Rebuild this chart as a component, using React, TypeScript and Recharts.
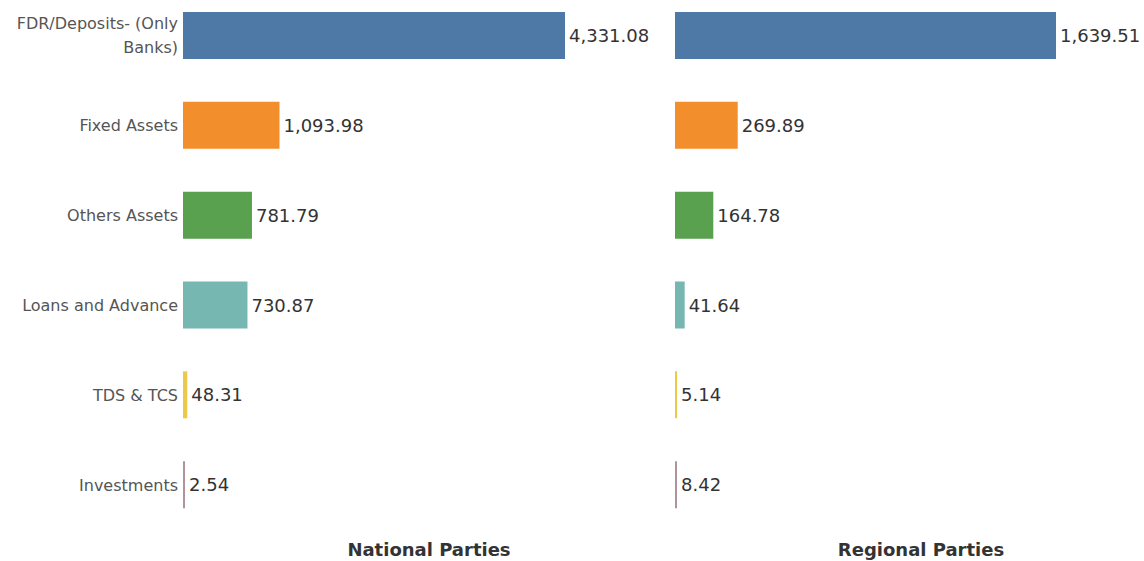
import React from 'react';
import { BarChart, Bar, XAxis, YAxis, Cell, LabelList } from 'recharts';

const categories = [
  'FDR/Deposits- (Only Banks)',
  'Fixed Assets',
  'Others Assets',
  'Loans and Advance',
  'TDS & TCS',
  'Investments',
];
const nationalValues = [4331.08, 1093.98, 781.79, 730.87, 48.31, 2.54];
const regionalValues = [1639.51, 269.89, 164.78, 41.64, 5.14, 8.42];
const barColors = ['#4e79a7', '#f28e2b', '#59a14f', '#76b7b2', '#edc948', '#b0949a'];
const panelTitles = ['National Parties', 'Regional Parties'];

const nationalData = categories.map((name, i) => ({ name, value: nationalValues[i] }));
const regionalData = categories.map((name, i) => ({ name, value: regionalValues[i] }));

const FONT = '"DejaVu Sans", sans-serif';

const fmt = (v: number) =>
  v.toLocaleString('en-US', { minimumFractionDigits: 2, maximumFractionDigits: 2 });

function wrap(text: string, max: number): string[] {
  const words = text.split(' ');
  const lines: string[] = [];
  let cur = '';
  for (const w of words) {
    const next = cur ? cur + ' ' + w : w;
    if (next.length > max && cur) {
      lines.push(cur);
      cur = w;
    } else cur = next;
  }
  if (cur) lines.push(cur);
  return lines;
}

const CategoryTick = (props: any) => {
  const { x, y, payload } = props;
  const lines = wrap(String(payload.value), 20);
  const lh = 24;
  const start = -((lines.length - 1) * lh) / 2;
  return (
    <text
      x={x}
      y={y}
      textAnchor="end"
      fill="#555"
      fontFamily={FONT}
      fontSize={16}
    >
      {lines.map((l, i) => (
        <tspan key={i} x={x} y={y + start + i * lh} dominantBaseline="central">
          {l}
        </tspan>
      ))}
    </text>
  );
};

const ValueLabel = (props: any) => {
  const { x, y, width, height, value } = props;
  return (
    <text
      x={x + width + 4}
      y={y + height / 2}
      dominantBaseline="central"
      fill="#333"
      fontFamily={FONT}
      fontSize={18}
    >
      {fmt(value)}
    </text>
  );
};

export default function App() {
  return (
    <div
      style={{
        position: 'absolute',
        left: 0,
        top: 0,
        width: 1144,
        height: 561,
        overflow: 'hidden',
        background: '#fff',
      }}
    >
      <div style={{ position: 'absolute', left: 0, top: -9 }}>
        <BarChart
          width={650}
          height={539}
          data={nationalData}
          layout="vertical"
          margin={{ top: 0, right: 85, bottom: 0, left: 0 }}
        >
          <XAxis type="number" hide domain={[0, Math.max(...nationalValues)]} />
          <YAxis
            type="category"
            dataKey="name"
            width={183}
            axisLine={false}
            tickLine={false}
            tickSize={0}
            tickMargin={5}
            interval={0}
            tick={<CategoryTick />}
          />
          <Bar dataKey="value" barSize={47} minPointSize={2} isAnimationActive={false}>
            {nationalData.map((d, i) => (
              <Cell key={d.name} fill={barColors[i]} />
            ))}
            <LabelList dataKey="value" content={<ValueLabel />} />
          </Bar>
        </BarChart>
      </div>
      <div style={{ position: 'absolute', left: 675, top: -9 }}>
        <BarChart
          width={469}
          height={539}
          data={regionalData}
          layout="vertical"
          margin={{ top: 0, right: 88, bottom: 0, left: 0 }}
        >
          <XAxis type="number" hide domain={[0, Math.max(...regionalValues)]} />
          <YAxis type="category" dataKey="name" hide />
          <Bar dataKey="value" barSize={47} minPointSize={2} isAnimationActive={false}>
            {regionalData.map((d, i) => (
              <Cell key={d.name} fill={barColors[i]} />
            ))}
            <LabelList dataKey="value" content={<ValueLabel />} />
          </Bar>
        </BarChart>
      </div>
      {panelTitles.map((t, i) => (
        <div
          key={t}
          style={{
            position: 'absolute',
            left: (i === 0 ? 429 : 921) - 150,
            top: 539,
            width: 300,
            lineHeight: '22px',
            textAlign: 'center',
            fontFamily: FONT,
            fontWeight: 'bold',
            fontSize: 18,
            color: '#333',
          }}
        >
          {t}
        </div>
      ))}
    </div>
  );
}
